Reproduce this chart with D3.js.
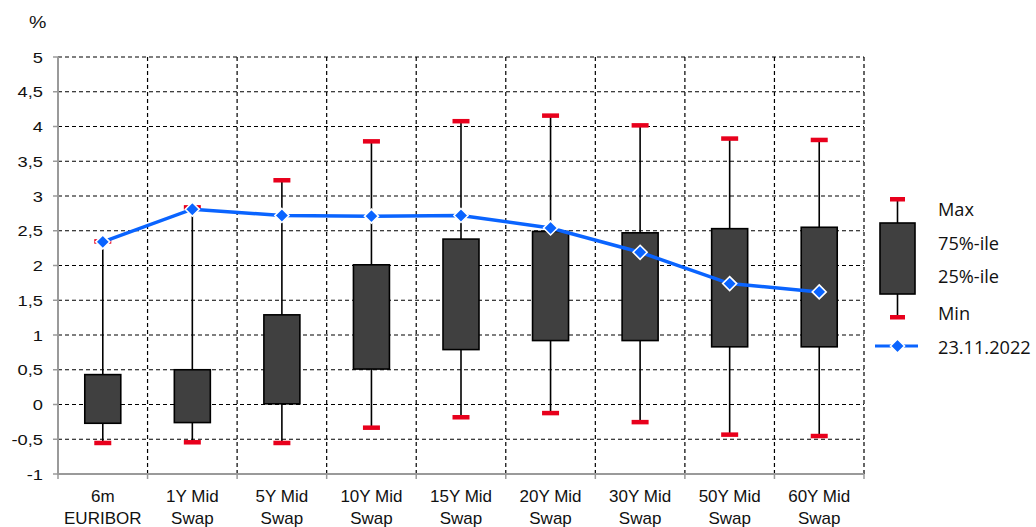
<!DOCTYPE html>
<html><head><meta charset="utf-8">
<script src="https://cdn.jsdelivr.net/npm/d3@7"></script>
<style>
html,body{margin:0;padding:0;background:#fff;}
svg{display:block;}
</style></head>
<body>
<svg id="chart" width="1036" height="527"></svg>
<script>
const categories = [["6m","EURIBOR"],["1Y Mid","Swap"],["5Y Mid","Swap"],["10Y Mid","Swap"],["15Y Mid","Swap"],["20Y Mid","Swap"],["30Y Mid","Swap"],["50Y Mid","Swap"],["60Y Mid","Swap"]];
const maxVals = [2.35, 2.84, 3.23, 3.79, 4.08, 4.16, 4.02, 3.83, 3.81];
const q75Vals = [0.43, 0.50, 1.29, 2.01, 2.38, 2.49, 2.47, 2.53, 2.55];
const q25Vals = [-0.27, -0.26, 0.01, 0.51, 0.79, 0.92, 0.92, 0.83, 0.83];
const minVals = [-0.55, -0.54, -0.55, -0.33, -0.18, -0.12, -0.25, -0.43, -0.45];
const currentVals = [2.34, 2.81, 2.72, 2.71, 2.72, 2.54, 2.19, 1.74, 1.62];
const yTicks = [-1,-0.5,0,0.5,1,1.5,2,2.5,3,3.5,4,4.5,5];
const legendLabels = ["Max","75%-ile","25%-ile","Min","23.11.2022"];

const svg = d3.select("#chart");
const keys = categories.map(c => c.join(" "));
const x = d3.scaleBand().domain(keys).range([58, 864]).padding(0);
const y = d3.scaleLinear().domain([-1, 5]).range([474, 57]);
const fmt = v => String(v).replace(".", ",");

// grid horizontal
const g = svg.append("g");
g.selectAll("line.hg").data(yTicks.filter(t => t > -1)).enter().append("line")
  .attr("x1", 58).attr("x2", 864).attr("y1", d => y(d)).attr("y2", d => y(d))
  .attr("stroke", "#000").attr("stroke-width", 1.2).attr("stroke-dasharray", "4,3");
// grid vertical
const bounds = keys.slice(1).map(k => x(k)).concat([864]);
g.selectAll("line.vg").data(bounds).enter().append("line")
  .attr("x1", d => d).attr("x2", d => d).attr("y1", y(5)).attr("y2", y(-1))
  .attr("stroke", "#000").attr("stroke-width", 1.2).attr("stroke-dasharray", "4,3");

// axes
const axisColor = "#9a9a9a";
svg.append("line").attr("x1", 58).attr("x2", 58).attr("y1", y(5)).attr("y2", y(-1)+1)
  .attr("stroke", axisColor).attr("stroke-width", 2);
svg.append("line").attr("x1", 57).attr("x2", 864).attr("y1", y(-1)).attr("y2", y(-1))
  .attr("stroke", axisColor).attr("stroke-width", 2);
svg.selectAll("line.yt").data(yTicks).enter().append("line")
  .attr("x1", 53).attr("x2", 58).attr("y1", d => y(d)).attr("y2", d => y(d))
  .attr("stroke", axisColor).attr("stroke-width", 1.5);
svg.selectAll("line.xt").data([58].concat(bounds)).enter().append("line")
  .attr("x1", d => d).attr("x2", d => d).attr("y1", y(-1)).attr("y2", y(-1)+5)
  .attr("stroke", axisColor).attr("stroke-width", 1.5);

// y labels
svg.selectAll("text.yl").data(yTicks).enter().append("text")
  .attr("transform", d => `translate(43,${y(d)+5.5}) scale(1.18,1)`)
  .attr("text-anchor", "end").attr("font-family", "Liberation Sans, Arial, sans-serif")
  .attr("font-size", 15.5).attr("fill", "#111").text(d => fmt(d));
svg.append("text").attr("transform", "translate(29,28) scale(1.15,1)")
  .attr("font-family", "Liberation Sans, Arial, sans-serif").attr("font-size", 17).attr("fill", "#111").text("%");

// x labels
categories.forEach((c, i) => {
  const cx = x(keys[i]) + x.bandwidth()/2;
  const t = svg.append("text").attr("text-anchor", "middle")
    .attr("font-family", "Liberation Sans, Arial, sans-serif").attr("font-size", 17).attr("fill", "#111");
  t.append("tspan").attr("x", cx).attr("y", 502).text(c[0]);
  t.append("tspan").attr("x", cx).attr("y", 524).text(c[1]);
});

// boxes
const bw = 36, capW = 17;
const cxs = keys.map(k => x(k) + x.bandwidth()/2);
const bg = svg.append("g");
keys.forEach((k, i) => {
  const cx = cxs[i];
  bg.append("line").attr("x1", cx).attr("x2", cx).attr("y1", y(maxVals[i])).attr("y2", y(minVals[i]))
    .attr("stroke", "#000").attr("stroke-width", 1.6);
  bg.append("rect").attr("x", cx - bw/2).attr("width", bw)
    .attr("y", y(q75Vals[i])).attr("height", y(q25Vals[i]) - y(q75Vals[i]))
    .attr("fill", "#404040").attr("stroke", "#000").attr("stroke-width", 1.6);
  [maxVals[i], minVals[i]].forEach(v => {
    bg.append("rect").attr("x", cx - capW/2).attr("width", capW).attr("y", y(v) - 2).attr("height", 4.5)
      .attr("fill", "#e8001c");
  });
});

// current line
const blue = "#0a64ff";
const line = d3.line().x((d, i) => cxs[i]).y(d => y(d));
svg.append("path").datum(currentVals).attr("d", line).attr("fill", "none")
  .attr("stroke", blue).attr("stroke-width", 3.5);
const diamond = (cx, cy, r) => `M${cx},${cy-r}L${cx+r},${cy}L${cx},${cy+r}L${cx-r},${cy}Z`;
svg.selectAll("path.dm").data(currentVals).enter().append("path")
  .attr("d", (d, i) => diamond(cxs[i], y(d), 7))
  .attr("fill", blue).attr("stroke", "#fff").attr("stroke-width", 1.6);

// legend
const lg = svg.append("g");
const lx = 897.5;
lg.append("line").attr("x1", lx).attr("x2", lx).attr("y1", 199).attr("y2", 317).attr("stroke", "#000").attr("stroke-width", 1.6);
lg.append("rect").attr("x", 880).attr("y", 223).attr("width", 35).attr("height", 71)
  .attr("fill", "#404040").attr("stroke", "#000").attr("stroke-width", 1.6);
[199, 317].forEach(cy => lg.append("rect").attr("x", lx - 7.5).attr("width", 15).attr("y", cy - 2).attr("height", 4.5).attr("fill", "#e8001c"));
lg.append("line").attr("x1", 875).attr("x2", 918).attr("y1", 346).attr("y2", 346).attr("stroke", blue).attr("stroke-width", 3);
lg.append("path").attr("d", diamond(lx, 346, 7)).attr("fill", blue).attr("stroke", "#fff").attr("stroke-width", 1.6);
const ly = [216, 250, 283, 320, 353.5];
legendLabels.forEach((t, i) => {
  lg.append("text").attr("x", 938).attr("y", ly[i]).attr("font-family", "Open Sans, sans-serif")
    .attr("font-size", 18.2).attr("fill", "#111").text(t);
});
</script>
</body></html>
